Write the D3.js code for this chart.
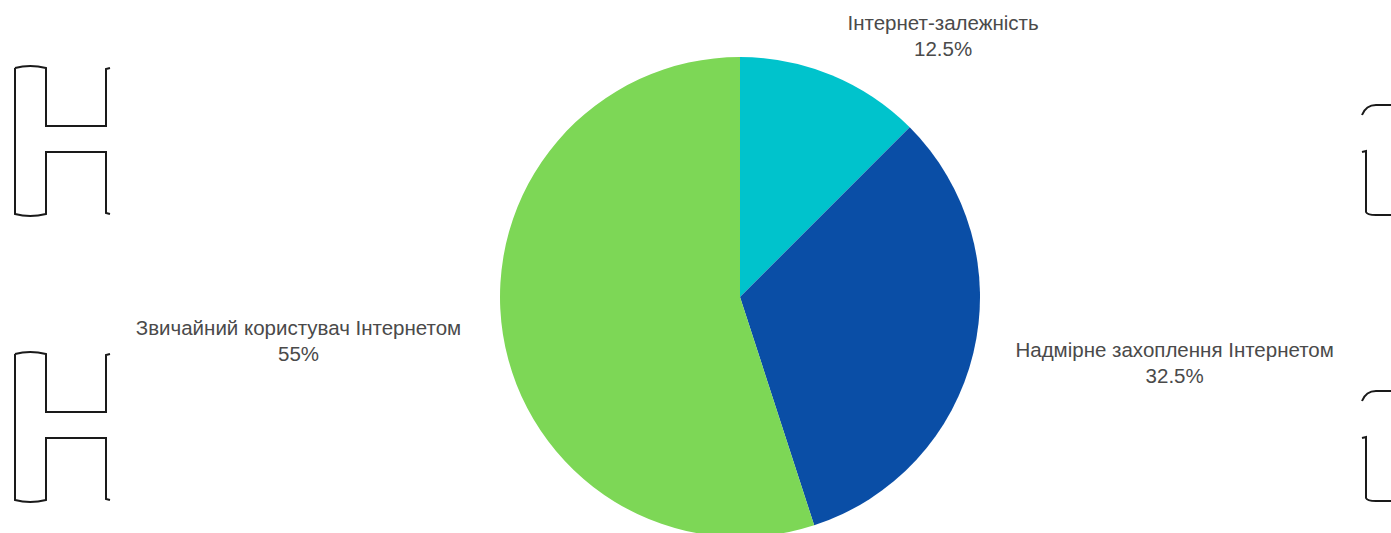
<!DOCTYPE html>
<html lang="uk">
<head>
<meta charset="UTF-8">
<script src="https://d3js.org/d3.v7.min.js"></script>
<title>Pie</title>
<style>
  body { margin: 0; background: #fff; }
  text { font-family: "Liberation Sans", Arial, sans-serif; }
</style>
</head>
<body>
<script>
var categories = ["Інтернет-залежність", "Надмірне захоплення Інтернетом", "Звичайний користувач Інтернетом"];
var values = [12.5, 32.5, 55];
var valueLabels = ["12.5%", "32.5%", "55%"];
var colors = ["#00c3cc", "#0a4ea6", "#7dd756"];

var w = 1391, h = 533;
var cx = 740, cy = 297, r = 240;

var svg = d3.select("body").append("svg").attr("width", w).attr("height", h);

// decorative bracket outlines at the edges
function bracketLeft(top) {
  var p = d3.path();
  p.moveTo(15, top);
  p.lineTo(15, top + 146);
  p.quadraticCurveTo(30, top + 150, 46, top + 146);
  p.lineTo(46, top + 84);
  p.lineTo(106, top + 84);
  p.lineTo(106, top + 145);
  p.lineTo(110, top + 146);
  p.moveTo(110, top);
  p.lineTo(106, top + 1);
  p.lineTo(106, top + 58);
  p.lineTo(46, top + 58);
  p.lineTo(46, top);
  p.quadraticCurveTo(30, top - 4, 15, top);
  return p.toString();
}
function bracketRight(top) {
  var p = d3.path();
  p.moveTo(1362, top + 10);
  p.quadraticCurveTo(1366, top, 1376, top);
  p.lineTo(1391, top);
  p.moveTo(1362, top + 47);
  p.lineTo(1366, top + 46);
  p.lineTo(1366, top + 107);
  p.quadraticCurveTo(1367, top + 110, 1376, top + 110);
  p.lineTo(1391, top + 110);
  return p.toString();
}
[68, 354].forEach(function(t) {
  svg.append("path").attr("d", bracketLeft(t))
    .attr("fill", "none").attr("stroke", "#1a1a1a").attr("stroke-width", 2);
});
[105, 391].forEach(function(t) {
  svg.append("path").attr("d", bracketRight(t))
    .attr("fill", "none").attr("stroke", "#1a1a1a").attr("stroke-width", 2);
});

var pie = d3.pie().sort(null).value(function(d) { return d; });
var arcs = pie(values);
var arc = d3.arc().innerRadius(0).outerRadius(r);

var g = svg.append("g").attr("transform", "translate(" + cx + "," + cy + ")");
g.selectAll("path.slice").data(arcs).enter().append("path")
  .attr("class", "slice")
  .attr("d", arc)
  .attr("fill", function(d, i) { return colors[i]; });

// labels sit on an ellipse around the pie
var ax = 447, by = 282;
var nudge = [32, 0, 0];
var fs = 20.5;
var lab = g.selectAll("g.lab").data(arcs).enter().append("g").attr("class", "lab")
  .attr("transform", function(d, i) {
    var a = (d.startAngle + d.endAngle) / 2;
    return "translate(" + (ax * Math.sin(a) + nudge[i]) + "," + (-by * Math.cos(a)) + ")";
  });
lab.append("text").attr("text-anchor", "middle").attr("y", -6)
  .attr("font-size", fs).attr("fill", "#4a4a4a")
  .text(function(d, i) { return categories[i]; });
lab.append("text").attr("text-anchor", "middle").attr("y", 20)
  .attr("font-size", fs).attr("fill", "#4a4a4a")
  .text(function(d, i) { return valueLabels[i]; });
</script>
</body>
</html>
